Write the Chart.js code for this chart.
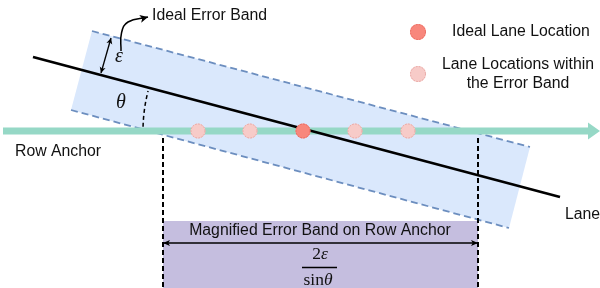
<!DOCTYPE html>
<html><head><meta charset="utf-8">
<script src="https://cdn.jsdelivr.net/npm/chart.js@4"></script>
<style>html,body{margin:0;padding:0;background:#fff;overflow:hidden}canvas{display:block}</style>
</head><body>
<canvas id="c" width="600" height="288"></canvas>
<script>
// ---- diagram data (diagram units, y grows downward) ----
const bandX = [92, 530, 509, 71, 92];
const bandY = [31, 147, 228, 110, 31];
const laneX = [33, 560];
const laneY = [57, 197];
const anchorX = [3, 589];
const anchorY = [131, 131];
const anchorHeadX = [588, 600, 588, 588];
const anchorHeadY = [122.5, 131, 139.5, 122.5];
const withinX = [198, 250, 355, 408];
const withinY = [131, 131, 131, 131];
const idealX = [303];
const idealY = [131];
const legendDotX = [418, 418];
const legendDotY = [32, 74];
const magX = [163, 478, 478, 163, 163];
const magY = [221, 221, 288, 288, 221];
const boundLeftX = [163, 163];
const boundRightX = [478, 478];
const boundY = [138, 288];
const epsX = [101, 111];
const epsY = [73, 38];
const curveX = [121, 121.5, 128, 148];
const curveY = [51, 33, 22, 17];
const magArrowX = [163, 478];
const magArrowY = [243, 243];
const arcCenterX = [303];
const arcCenterY = [131];
const arcRadius = [160];
const arcAngles = [181.5, 194.5];

const textLabels = ['Ideal Error Band', 'Ideal Lane Location', 'Lane Locations within', 'the Error Band', 'Row Anchor', 'Lane', 'Magnified Error Band on Row Anchor'];
const textAnchorsX = [152, 452, 518, 518, 15, 565, 320];
const textAnchorsY = [16, 32, 65, 84, 152, 215, 231];
const textAligns = ['left', 'left', 'center', 'center', 'left', 'left', 'center'];

const pts = (xs, ys) => xs.map((x, i) => ({x: x, y: ys[i]}));

const BAND = '#dae8fc', BAND_EDGE = '#6c8ebf', MAG = '#c5bedf', ANCHOR = '#96d8c6';
const IDEAL = '#f8877c', WITHIN = '#f7cbc8';

const line = (data, extra) => Object.assign({data: data, showLine: true, pointRadius: 0, fill: false, borderColor: '#000', borderWidth: 1.3, tension: 0}, extra);

const datasets = [
  line(pts(bandX, bandY), {borderWidth: 0, backgroundColor: BAND, fill: 'shape', order: 20}),
  line(pts(magX, magY), {borderWidth: 0, backgroundColor: MAG, fill: 'shape', order: 19}),
  line(pts([bandX[0], bandX[1]], [bandY[0], bandY[1]]), {borderColor: BAND_EDGE, borderWidth: 1.8, borderDash: [7, 4], order: 18}),
  line(pts([bandX[3], bandX[2]], [bandY[3], bandY[2]]), {borderColor: BAND_EDGE, borderWidth: 1.8, borderDash: [7, 4], order: 18}),
  line(pts(boundLeftX, boundY), {borderWidth: 2, borderDash: [5, 3], order: 17}),
  line(pts(boundRightX, boundY), {borderWidth: 2, borderDash: [5, 3], order: 17}),
  line(pts(anchorX, anchorY), {borderColor: ANCHOR, borderWidth: 7, borderCapStyle: 'butt', order: 15}),
  line(pts(anchorHeadX, anchorHeadY), {borderWidth: 0, backgroundColor: ANCHOR, fill: 'shape', order: 15}),
  line(pts(laneX, laneY), {borderWidth: 2.7, order: 14}),
  line(pts(epsX, epsY), {borderWidth: 1.3, order: 13, arrowStart: [6, 3], arrowEnd: [6, 3]}),
  line(pts(curveX, curveY), {borderWidth: 1.5, tension: 0.45, order: 13, arrowEnd: [8, 4]}),
  line(pts(magArrowX, magArrowY), {borderWidth: 1.3, order: 13, arrowStart: [7, 3], arrowEnd: [7, 3]}),
  {data: pts(withinX, withinY), showLine: false, pointRadius: 7.5, pointBorderWidth: 0, backgroundColor: WITHIN, dotBorder: '#e6a3a0', order: 2},
  {data: pts(idealX, idealY), showLine: false, pointRadius: 7.5, pointBorderWidth: 0, backgroundColor: IDEAL, dotBorder: '#e8675c', order: 1},
  {data: pts(legendDotX, legendDotY), showLine: false, pointRadius: 8, pointBorderWidth: 0, backgroundColor: [IDEAL, WITHIN], dotBorder: ['#e8675c', '#e6a3a0'], order: 1}
];

const decor = {
  id: 'decor',
  afterDatasetsDraw(chart) {
    const ctx = chart.ctx, sx = chart.scales.x, sy = chart.scales.y;
    const px = v => sx.getPixelForValue(v), py = v => sy.getPixelForValue(v);
    ctx.save();
    const head = (tx, ty, fx, fy, spec) => {
      const a = Math.atan2(ty - fy, tx - fx), L = spec[0], W = spec[1];
      ctx.beginPath();
      ctx.moveTo(tx, ty);
      ctx.lineTo(tx - L * Math.cos(a) + W * Math.sin(a), ty - L * Math.sin(a) - W * Math.cos(a));
      ctx.lineTo(tx - L * Math.cos(a) * 0.75, ty - L * Math.sin(a) * 0.75);
      ctx.lineTo(tx - L * Math.cos(a) - W * Math.sin(a), ty - L * Math.sin(a) + W * Math.cos(a));
      ctx.closePath();
      ctx.fillStyle = '#000';
      ctx.fill();
    };
    chart.data.datasets.forEach((ds, i) => {
      const els = chart.getDatasetMeta(i).data;
      if (ds.arrowEnd) {
        const p = els[els.length - 1], q = els[els.length - 2];
        const useCp = p.cp1x !== undefined && Math.abs(p.cp1x - p.x) + Math.abs(p.cp1y - p.y) > 0.5;
        head(p.x, p.y, useCp ? p.cp1x : q.x, useCp ? p.cp1y : q.y, ds.arrowEnd);
      }
      if (ds.arrowStart) {
        const p = els[0], q = els[1];
        head(p.x, p.y, q.x, q.y, ds.arrowStart);
      }
      if (ds.dotBorder) {
        els.forEach((el, j) => {
          const c = Array.isArray(ds.dotBorder) ? ds.dotBorder[j] : ds.dotBorder;
          ctx.beginPath();
          ctx.arc(el.x, el.y, el.options.radius - 0.5, 0, Math.PI * 2);
          ctx.strokeStyle = c;
          ctx.lineWidth = 1;
          ctx.setLineDash([1.5, 1.5]);
          ctx.stroke();
          ctx.setLineDash([]);
        });
      }
    });
    // angle arc
    const cx = px(arcCenterX[0]), cy = py(arcCenterY[0]);
    const r = px(arcCenterX[0] + arcRadius[0]) - cx;
    ctx.beginPath();
    ctx.arc(cx, cy, r, arcAngles[0] * Math.PI / 180, arcAngles[1] * Math.PI / 180);
    ctx.strokeStyle = '#000';
    ctx.lineWidth = 1.5;
    ctx.setLineDash([4, 3]);
    ctx.stroke();
    ctx.setLineDash([]);
    // texts
    ctx.fillStyle = '#111';
    ctx.textBaseline = 'middle';
    ctx.font = '15.8px "Liberation Sans", Arial, sans-serif';
    textLabels.forEach((t, i) => {
      ctx.textAlign = textAligns[i];
      ctx.fillText(t, px(textAnchorsX[i]), py(textAnchorsY[i]));
    });
    // math symbols
    const serif = '"Liberation Serif", "DejaVu Serif", serif';
    ctx.textAlign = 'center';
    ctx.font = 'italic 20px ' + serif;
    ctx.fillText('\u03B5', px(119), py(57));
    ctx.fillText('\u03B8', px(121), py(103));
    const mixed = (parts, cxv, cyv) => {
      let w = 0;
      parts.forEach(p => { ctx.font = p[1] + ' 17.5px ' + serif; p.w = ctx.measureText(p[0]).width; w += p.w; });
      let x = px(cxv) - w / 2;
      ctx.textAlign = 'left';
      parts.forEach(p => { ctx.font = p[1] + ' 17.5px ' + serif; ctx.fillText(p[0], x, py(cyv)); x += p.w; });
    };
    mixed([['2', 'normal'], ['\u03B5', 'italic']], 320, 254);
    ctx.beginPath();
    ctx.moveTo(px(302), py(267.5));
    ctx.lineTo(px(337), py(267.5));
    ctx.lineWidth = 1.3;
    ctx.strokeStyle = '#000';
    ctx.stroke();
    mixed([['sin', 'normal'], ['\u03B8', 'italic']], 318, 280);
    ctx.restore();
  }
};

new Chart(document.getElementById('c'), {
  type: 'scatter',
  data: {datasets: datasets},
  options: {
    responsive: false,
    animation: false,
    events: [],
    layout: {padding: 0, autoPadding: false},
    plugins: {legend: {display: false}, tooltip: {enabled: false}},
    scales: {
      x: {type: 'linear', min: 0, max: 600, display: false},
      y: {type: 'linear', min: 0, max: 288, reverse: true, display: false}
    }
  },
  plugins: [decor]
});
</script>
</body></html>
